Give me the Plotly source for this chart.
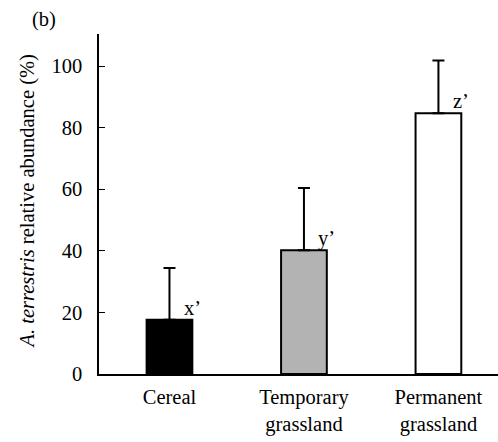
import plotly.graph_objects as go

categories = ["Cereal", "Temporary<br>grassland", "Permanent<br>grassland"]
means = [17.6, 40.2, 84.7]
errors_up = [16.8, 20.2, 17.1]
letters = ["x’", "y’", "z’"]
bar_colors = ["#000000", "#b3b3b3", "#ffffff"]
y_ticks = [0, 20, 40, 60, 80, 100]

FONT = "Liberation Serif, Times New Roman, serif"
FS = 20.5

W, H = 498, 442
ML, MR, MT, MB = 99, 0, 34, 68
plot_w = W - ML - MR
plot_h = H - MT - MB

fig = go.Figure()
fig.add_trace(go.Bar(
    x=list(range(len(categories))),
    y=means,
    width=0.34,
    marker=dict(color=bar_colors, line=dict(color="black", width=2)),
    error_y=dict(type="data", symmetric=False, array=errors_up,
                 arrayminus=[0] * len(means), color="black",
                 thickness=2, width=6),
    showlegend=False,
    hoverinfo="skip",
))

annotations = []
for i, (m, lab) in enumerate(zip(means, letters)):
    annotations.append(dict(x=i + 0.17, y=m + 3.8, xref="x", yref="y",
                            text=lab, showarrow=False,
                            font=dict(family=FONT, size=FS, color="black"),
                            xanchor="center", yanchor="middle"))

annotations.append(dict(
    x=(27 - ML) / plot_w, y=(H - MB - 201.5) / plot_h,
    xref="paper", yref="paper",
    text="<i>A. terrestris</i> relative abundance (%)",
    textangle=-90, showarrow=False,
    font=dict(family=FONT, size=FS, color="black"),
    xanchor="center", yanchor="middle"))

annotations.append(dict(
    x=(43.5 - ML) / plot_w, y=(H - MB - 20) / plot_h,
    xref="paper", yref="paper",
    text="(b)", showarrow=False,
    font=dict(family=FONT, size=FS, color="black"),
    xanchor="center", yanchor="middle"))

fig.update_layout(
    width=W, height=H,
    margin=dict(l=ML, r=MR, t=MT, b=MB, autoexpand=False),
    paper_bgcolor="white", plot_bgcolor="white",
    font=dict(family=FONT, size=FS, color="black"),
    annotations=annotations,
    xaxis=dict(
        tickmode="array", tickvals=list(range(len(categories))),
        ticktext=categories,
        range=[-0.524, 2.443],
        showline=True, linecolor="black", linewidth=1.5,
        ticks="", showgrid=False, zeroline=False,
        tickfont=dict(family=FONT, size=FS, color="black"),
        ticklabelstandoff=4, automargin=False,
    ),
    yaxis=dict(
        range=[0, 110.4],
        tickmode="array", tickvals=y_ticks,
        showline=True, linecolor="black", linewidth=1.5,
        ticks="inside", ticklen=6, tickcolor="black", tickwidth=1,
        showgrid=False, zeroline=False,
        tickfont=dict(family=FONT, size=FS, color="black"),
        ticklabelstandoff=11, automargin=False,
    ),
)

fig.write_html("out.html",
               config={"displayModeBar": False},
               post_script="document.body.style.margin='0';document.body.style.overflow='hidden';")
